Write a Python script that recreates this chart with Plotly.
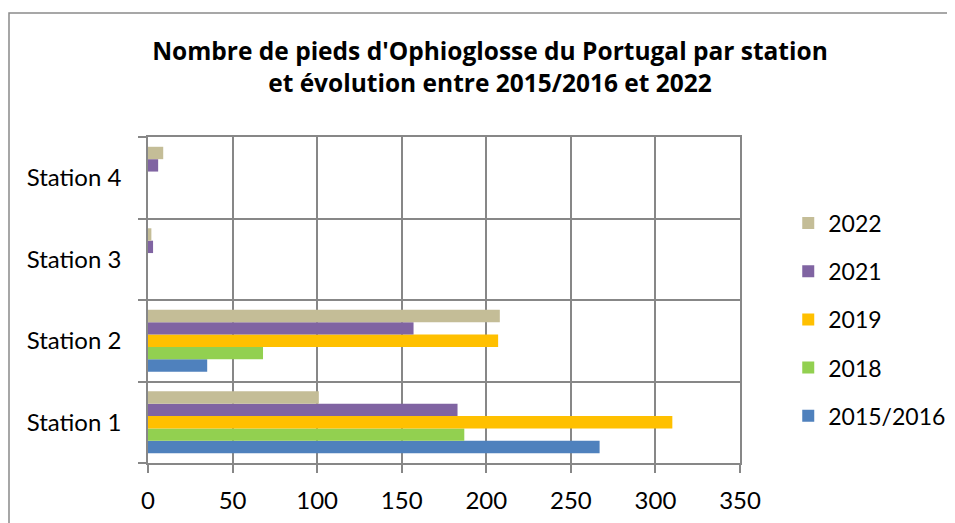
import plotly.graph_objects as go

stations = ["Station 1", "Station 2", "Station 3", "Station 4"]
series_names = ["2015/2016", "2018", "2019", "2021", "2022"]
v_2015_2016 = [267, 35, 0, 0]
v_2018 = [187, 68, 0, 0]
v_2019 = [310, 207, 0, 0]
v_2021 = [183, 157, 3, 6]
v_2022 = [101, 208, 2, 9]
series_values = [v_2015_2016, v_2018, v_2019, v_2021, v_2022]
colors = ["#4F81BD", "#92D050", "#FFC000", "#8064A2", "#C4BD97"]

x_ticks = [0, 50, 100, 150, 200, 250, 300, 350]

FONT = "Lato"
GRID = "#878787"

fig = go.Figure()
n = len(series_names)
for i, (name, vals, col) in enumerate(zip(series_names, series_values, colors)):
    fig.add_trace(go.Bar(
        y=stations, x=vals, name=name, orientation="h",
        marker=dict(color=col, line=dict(width=0)),
        legendgroup=name, legendrank=n - i,
    ))

fig.update_layout(
    width=955, height=523,
    barmode="group", bargap=0.24, bargroupgap=0,
    paper_bgcolor="white", plot_bgcolor="white",
    margin=dict(l=140, r=223, t=129, b=68, autoexpand=False),
    font=dict(family=FONT, color="#000000", size=24),
    title=dict(
        text="<b>Nombre de pieds d'Ophioglosse du Portugal par station<br>et évolution entre 2015/2016 et 2022</b>",
        x=0.5047, xanchor="center", y=0.901, yanchor="middle",
        font=dict(family="Open Sans", size=24.5, color="#000000"),
        automargin=False,
    ),
    legend=dict(
        traceorder="grouped", tracegroupgap=15.3,
        x=1.0815, xanchor="left", y=0.44, yanchor="middle",
        font=dict(family=FONT, size=23),
        itemwidth=30,
    ),
    xaxis=dict(
        range=[0, 350], tickvals=x_ticks, showgrid=True,
        gridcolor=GRID, gridwidth=1.5, zeroline=False,
        showline=True, linecolor=GRID, linewidth=1.5, mirror=True,
        ticks="outside", ticklen=8, tickcolor=GRID, tickwidth=1.5,
        tickfont=dict(family=FONT, size=24),
        ticklabelstandoff=7,
        automargin=False, fixedrange=True,
    ),
    yaxis=dict(
        type="category", categoryorder="array", categoryarray=stations,
        tickson="boundaries", showgrid=True, gridcolor=GRID, gridwidth=1.5,
        showline=True, linecolor=GRID, linewidth=1.5, mirror=True,
        ticks="outside", ticklen=8, tickcolor=GRID, tickwidth=1.5,
        tickfont=dict(family=FONT, size=24),
        ticklabelstandoff=20,
        automargin=False,
    ),
    shapes=[dict(
        type="rect", xref="paper", yref="paper",
        x0=-0.2348, x1=1.6, y0=-0.4, y1=1.380,
        line=dict(color="#8a8a8a", width=1.5), fillcolor="rgba(0,0,0,0)",
        layer="below",
    )],
)

fig.write_html("out.html")
